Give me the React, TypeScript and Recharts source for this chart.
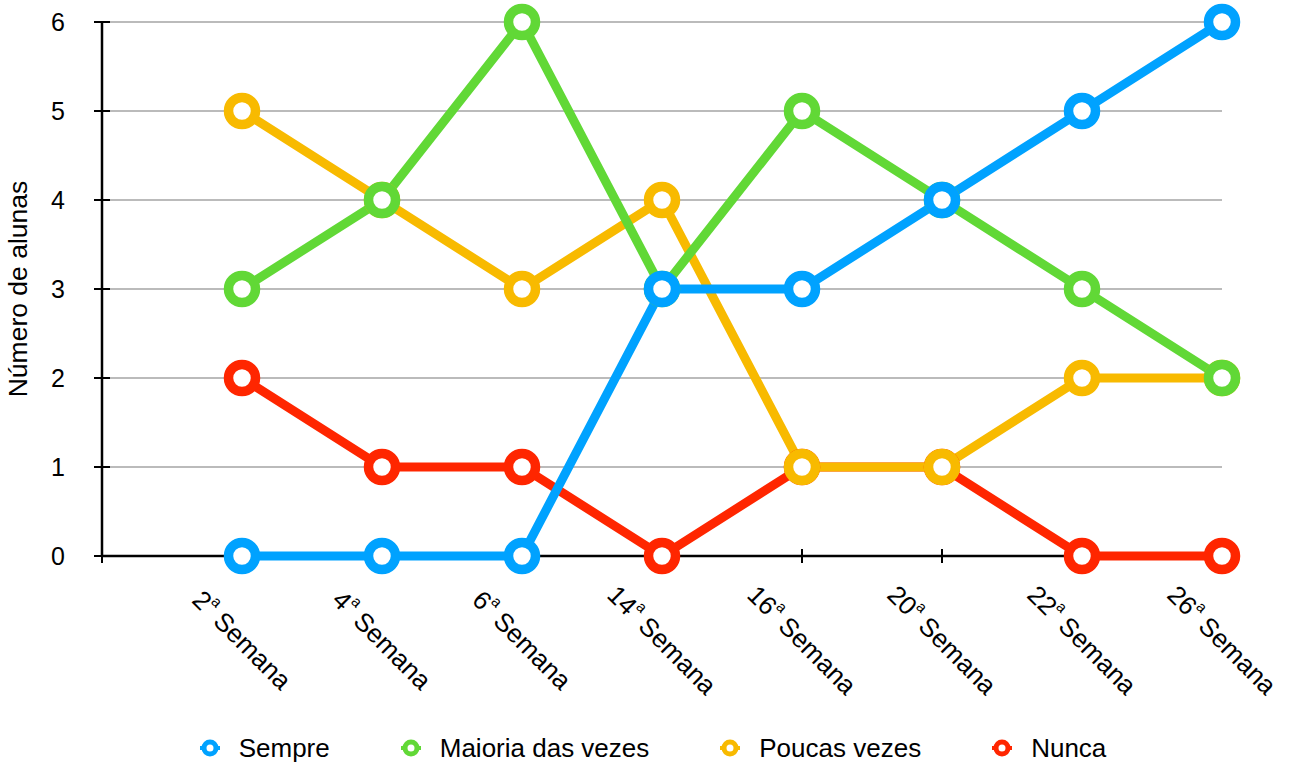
import React from "react";
import { LineChart, Line, XAxis, YAxis, CartesianGrid, Legend } from "recharts";

// Categories and values
const weeks = ["2ª Semana", "4ª Semana", "6ª Semana", "14ª Semana", "16ª Semana", "20ª Semana", "22ª Semana", "26ª Semana"];
const sempre = [0, 0, 0, 3, 3, 4, 5, 6];
const maioria = [3, 4, 6, 3, 5, 4, 3, 2];
const poucas = [5, 4, 3, 4, 1, 1, 2, 2];
const nunca = [2, 1, 1, 0, 1, 1, 0, 0];
const yTicks = [0, 1, 2, 3, 4, 5, 6];

// Legend order (drawing order is reversed so blue ends up on top)
const series = [
  { key: "sempre", name: "Sempre", color: "#00a2ff" },
  { key: "maioria", name: "Maioria das vezes", color: "#61d836" },
  { key: "poucas", name: "Poucas vezes", color: "#f8ba00" },
  { key: "nunca", name: "Nunca", color: "#ff2600" },
];

const data = weeks.map((week, i) => ({
  week,
  sempre: sempre[i],
  maioria: maioria[i],
  poucas: poucas[i],
  nunca: nunca[i],
}));

const FONT = "'Liberation Sans', Arial, Helvetica, sans-serif";

// layout
const W = 1293;
const H = 763;
const MARGIN = { top: 22, right: 71, bottom: 0, left: 0 };
const X_AXIS_H = 177;
const LEGEND_H = 30;
const PLOT_BOTTOM = H - MARGIN.bottom - LEGEND_H - X_AXIS_H;

// x tick label rotated 45deg with a superscript "a"
const XTick = (props: any) => {
  const { x, y, payload } = props;
  const label = String(payload.value);
  const idx = label.indexOf("ª");
  const num = label.slice(0, idx);
  const rest = label.slice(idx + 1);
  return (
    <text
      transform={`translate(${x},${y + 84}) rotate(45)`}
      textAnchor="middle"
      dominantBaseline="central"
      fontSize={26}
      fontFamily={FONT}
      fill="#000"
    >
      {num}
      <tspan fontSize={15} dy={-10}>a</tspan>
      <tspan dy={10}>{rest}</tspan>
    </text>
  );
};

const YTick = (props: any) => {
  const { x, y, payload } = props;
  return (
    <g>
      <line x1={x - 8} x2={x + 8} y1={y} y2={y} stroke="#000" strokeWidth={2} />
      {payload.value === 0 && <line x1={x} x2={x} y1={y} y2={y + 7} stroke="#000" strokeWidth={2} />}
      <text x={x - 37} y={y} textAnchor="end" dominantBaseline="central" fontSize={25} fontFamily={FONT} fill="#000">
        {payload.value}
      </text>
    </g>
  );
};

const YLabel = (props: any) => {
  const vb = props.viewBox || {};
  const cy = vb.y + vb.height / 2;
  return (
    <text
      transform={`translate(18,${cy}) rotate(-90)`}
      textAnchor="middle"
      dominantBaseline="central"
      fontSize={26.5}
      fontFamily={FONT}
      fill="#000"
    >
      Número de alunas
    </text>
  );
};

// grid lines: the bottom one doubles as the x axis line so the series draw over it
const HLine = (p: any) => {
  const isAxis = Math.abs(p.y1 - PLOT_BOTTOM) < 1;
  return (
    <line
      key={p.key}
      x1={p.x1}
      x2={p.x2}
      y1={p.y1}
      y2={p.y2}
      stroke={isAxis ? "#000" : "#bbbbbb"}
      strokeWidth={isAxis ? 2.5 : 2}
    />
  );
};

// x tick marks, under the dots
const VTick = (p: any) => (
  <line key={p.key} x1={p.x1} x2={p.x1} y1={PLOT_BOTTOM - 7} y2={PLOT_BOTTOM + 7} stroke="#000" strokeWidth={2} />
);

const LegendContent = () => (
  <div style={{ display: "flex", justifyContent: "center", alignItems: "center", gap: 69, fontFamily: FONT, fontSize: 26, lineHeight: "30px" }}>
    {series.map((s) => (
      <div key={s.key} style={{ display: "flex", alignItems: "center" }}>
        <svg width={24} height={20} style={{ marginRight: 17 }}>
          <line x1={2} x2={22} y1={10} y2={10} stroke={s.color} strokeWidth={4} />
          <circle cx={12} cy={10} r={6} fill="#fff" stroke={s.color} strokeWidth={5} />
        </svg>
        <span>{s.name}</span>
      </div>
    ))}
  </div>
);

export default function App() {
  const drawOrder = [...series].reverse();
  return (
    <div style={{ position: "absolute", left: 0, top: 0, background: "#fff" }}>
      <LineChart width={W} height={H} data={data} margin={MARGIN}>
        <CartesianGrid horizontal={HLine} vertical={VTick} />
        <XAxis
          dataKey="week"
          interval={0}
          height={X_AXIS_H}
          padding={{ left: 140, right: 0 }}
          tickSize={0}
          tickMargin={0}
          tickLine={false}
          axisLine={false}
          tick={<XTick />}
        />
        <YAxis
          width={102}
          domain={[0, 6]}
          ticks={yTicks}
          interval={0}
          tickSize={0}
          tickMargin={0}
          tickLine={false}
          axisLine={{ stroke: "#000", strokeWidth: 2.5 }}
          tick={<YTick />}
          label={{ content: <YLabel /> }}
        />
        <Legend
          verticalAlign="bottom"
          height={LEGEND_H}
          wrapperStyle={{ left: 92, width: 1120 }}
          content={() => <LegendContent />}
        />
        {drawOrder.map((s) => (
          <Line
            key={s.key}
            type="linear"
            dataKey={s.key}
            name={s.name}
            stroke={s.color}
            strokeWidth={9}
            dot={{ r: 13.5, strokeWidth: 9.5, fill: "#fff", stroke: s.color }}
            activeDot={false}
            isAnimationActive={false}
          />
        ))}
      </LineChart>
    </div>
  );
}
